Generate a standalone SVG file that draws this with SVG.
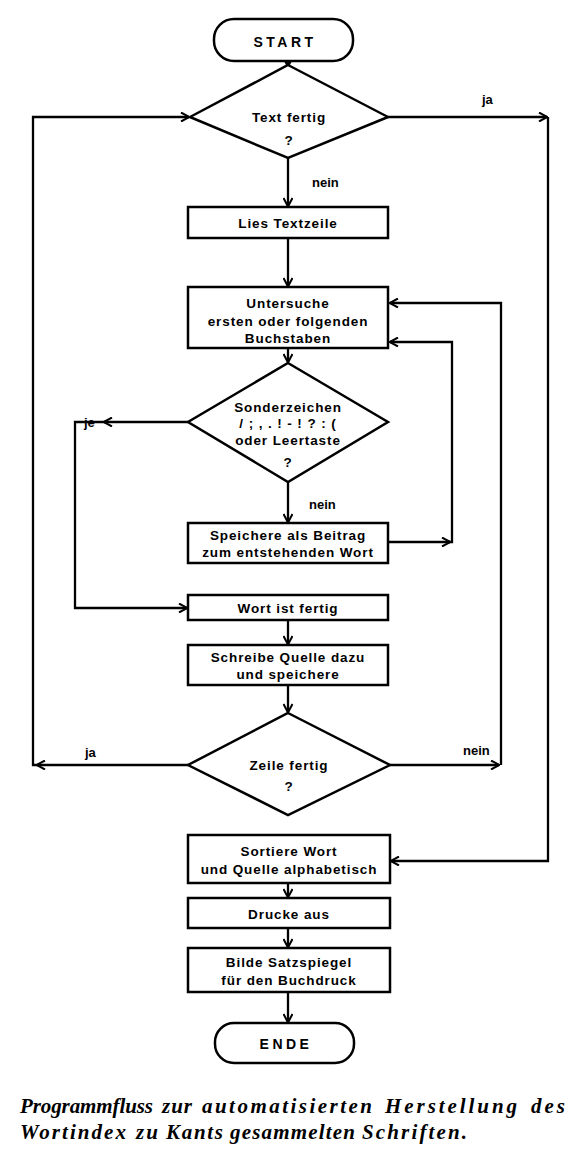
<svg xmlns="http://www.w3.org/2000/svg" width="588" height="1165" viewBox="0 0 588 1165">
<defs>
<marker id="ah" viewBox="0 0 10 10" refX="9" refY="5" markerWidth="10" markerHeight="10" markerUnits="userSpaceOnUse" orient="auto">
<path d="M1,0.5 L9.5,5 L1,9.5" fill="none" stroke="#000" stroke-width="2"/>
</marker>
</defs>
<style>
.n{fill:#fff;stroke:#000;stroke-width:2.5}
.t{font-family:"Liberation Sans",Arial,sans-serif;font-size:13.5px;font-weight:bold;letter-spacing:0.9px;text-anchor:middle;fill:#000}
.big{font-size:14px;letter-spacing:3.5px}
.lbl{font-family:"Liberation Sans",Arial,sans-serif;font-size:13px;font-weight:bold;fill:#000}
.c{fill:none;stroke:#000;stroke-width:2.3}
.a{marker-end:url(#ah)}
.cap{font-family:"Liberation Serif","Times New Roman",serif;font-style:italic;font-weight:bold;font-size:21px;fill:#000}
</style>
<rect width="588" height="1165" fill="#fff"/>
<g id="connectors">
<path class="c a" d="M288,61 V66"/>
<path class="c a" d="M288,158 V206"/>
<path class="c a" d="M388,117 H547"/>
<path class="c a" d="M548,117 V861 H391"/>
<path class="c a" d="M288,238 V286"/>
<path class="c a" d="M288,348 V362"/>
<path class="c a" d="M188,422 H104"/>
<path class="c a" d="M108,422 H75 V608 H187"/>
<path class="c a" d="M288,482 V522"/>
<path class="c a" d="M388,542 H450"/>
<path class="c a" d="M448,542 H452 V342 H390"/>
<path class="c a" d="M288,620 V644"/>
<path class="c a" d="M288,685 V712"/>
<path class="c a" d="M188,765 H37"/>
<path class="c a" d="M40,765 H33 V117 H189"/>
<path class="c a" d="M390,765 H499"/>
<path class="c a" d="M501,765 V303 H390"/>
<path class="c a" d="M288,883 V897"/>
<path class="c a" d="M288,928 V947"/>
<path class="c a" d="M288,992 V1022"/>
</g>
<g id="start">
<rect class="n" x="214" y="19" width="139" height="42" rx="20"/>
<text class="t big" x="285" y="47">START</text>
</g>
<g id="text-fertig">
<polygon class="n" points="288,65 388,117 288,158 190,117"/>
<text class="t" x="289" y="122">Text fertig</text>
<text class="t" x="289" y="145">?</text>
</g>
<g id="lies">
<rect class="n" x="188" y="207" width="200" height="31"/>
<text class="t" x="288" y="228">Lies Textzeile</text>
</g>
<g id="untersuche">
<rect class="n" x="188" y="287" width="200" height="61"/>
<text class="t" x="288" y="308">Untersuche</text>
<text class="t" x="288" y="326">ersten oder folgenden</text>
<text class="t" x="288" y="343">Buchstaben</text>
</g>
<g id="sonderzeichen">
<polygon class="n" points="288,363 388,422 288,482 188,422"/>
<text class="t" x="288" y="412">Sonderzeichen</text>
<text class="t" x="288" y="428">/ ; , .  ! - ! ? : (</text>
<text class="t" x="288" y="445">oder Leertaste</text>
<text class="t" x="288" y="467">?</text>
</g>
<g id="speichere">
<rect class="n" x="188" y="523" width="200" height="40"/>
<text class="t" x="288" y="540">Speichere als Beitrag</text>
<text class="t" x="288" y="557">zum entstehenden Wort</text>
</g>
<g id="wort-fertig">
<rect class="n" x="188" y="595" width="200" height="25"/>
<text class="t" x="288" y="613">Wort ist fertig</text>
</g>
<g id="schreibe">
<rect class="n" x="188" y="645" width="200" height="40"/>
<text class="t" x="288" y="662">Schreibe Quelle dazu</text>
<text class="t" x="288" y="679">und speichere</text>
</g>
<g id="zeile-fertig">
<polygon class="n" points="288,713 390,765 288,815 188,765"/>
<text class="t" x="289" y="770">Zeile fertig</text>
<text class="t" x="289" y="791">?</text>
</g>
<g id="sortiere">
<rect class="n" x="188" y="835" width="202" height="48"/>
<text class="t" x="289" y="856">Sortiere Wort</text>
<text class="t" x="289" y="874">und Quelle alphabetisch</text>
</g>
<g id="drucke">
<rect class="n" x="188" y="898" width="202" height="30"/>
<text class="t" x="289" y="919">Drucke aus</text>
</g>
<g id="bilde">
<rect class="n" x="188" y="948" width="202" height="44"/>
<text class="t" x="289" y="967">Bilde Satzspiegel</text>
<text class="t" x="289" y="985">für den Buchdruck</text>
</g>
<g id="ende">
<rect class="n" x="215" y="1023" width="139" height="40" rx="19"/>
<text class="t big" x="286" y="1049">ENDE</text>
</g>
<g id="labels">
<text class="lbl" x="482" y="104">ja</text>
<text class="lbl" x="312" y="187">nein</text>
<text class="lbl" x="84" y="427">je</text>
<text class="lbl" x="309" y="509">nein</text>
<text class="lbl" x="85" y="757">ja</text>
<text class="lbl" x="463" y="755">nein</text>
</g>
<g id="caption">
<text class="cap" x="20" y="1113" textLength="133" lengthAdjust="spacing">Programmfluss</text>
<text class="cap" x="162" y="1113" textLength="30" lengthAdjust="spacing">zur</text>
<text class="cap" x="202" y="1113" textLength="170" lengthAdjust="spacing">automatisierten</text>
<text class="cap" x="385" y="1113" textLength="132" lengthAdjust="spacing">Herstellung</text>
<text class="cap" x="531" y="1113" textLength="34" lengthAdjust="spacing">des</text>
<text class="cap" x="20" y="1139" textLength="106" lengthAdjust="spacing">Wortindex</text>
<text class="cap" x="136" y="1139" textLength="22" lengthAdjust="spacing">zu</text>
<text class="cap" x="166" y="1139" textLength="57" lengthAdjust="spacing">Kants</text>
<text class="cap" x="230" y="1139" textLength="125" lengthAdjust="spacing">gesammelten</text>
<text class="cap" x="362" y="1139" textLength="105" lengthAdjust="spacing">Schriften.</text>
</g>
</svg>
